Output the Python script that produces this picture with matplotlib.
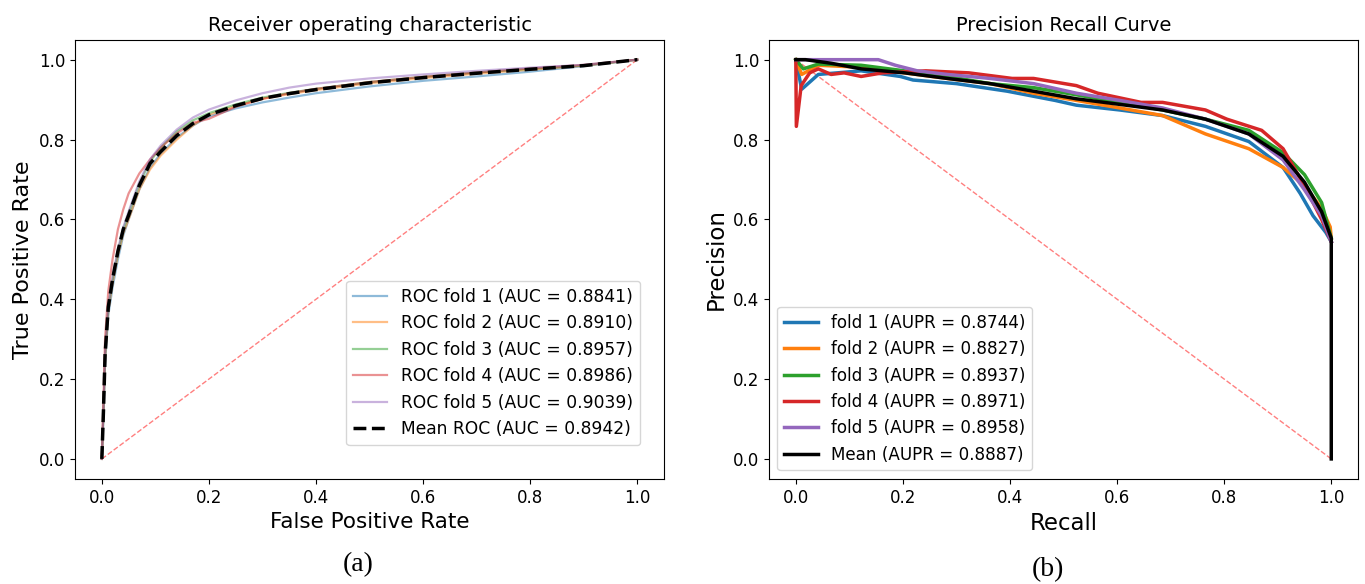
import matplotlib
matplotlib.use("Agg")
import matplotlib.pyplot as plt

# ---------------- ROC data ----------------
roc_fpr = [0, 0.003, 0.006, 0.012, 0.02, 0.03, 0.04, 0.05, 0.07, 0.09, 0.11, 0.14,
           0.17, 0.2, 0.25, 0.3, 0.35, 0.4, 0.5, 0.6, 0.7, 0.8, 0.9, 1.0]
roc_tpr_fold1 = [0, 0.11, 0.24, 0.36, 0.43, 0.50, 0.56, 0.60, 0.675, 0.73, 0.765, 0.805,
                 0.835, 0.858, 0.878, 0.893, 0.905, 0.916, 0.933, 0.947, 0.958, 0.970, 0.984, 1.0]
roc_tpr_fold2 = [0, 0.12, 0.25, 0.37, 0.44, 0.51, 0.565, 0.60, 0.675, 0.725, 0.76, 0.80,
                 0.835, 0.862, 0.884, 0.902, 0.914, 0.924, 0.941, 0.954, 0.965, 0.975, 0.985, 1.0]
roc_tpr_fold3 = [0, 0.12, 0.26, 0.38, 0.45, 0.52, 0.575, 0.615, 0.69, 0.745, 0.78, 0.82,
                 0.848, 0.866, 0.888, 0.905, 0.917, 0.927, 0.944, 0.957, 0.968, 0.977, 0.986, 1.0]
roc_tpr_fold4 = [0, 0.15, 0.30, 0.42, 0.50, 0.575, 0.625, 0.665, 0.715, 0.75, 0.78, 0.815,
                 0.842, 0.852, 0.882, 0.902, 0.916, 0.927, 0.944, 0.957, 0.968, 0.978, 0.987, 1.0]
roc_tpr_fold5 = [0, 0.12, 0.26, 0.38, 0.455, 0.525, 0.58, 0.62, 0.695, 0.75, 0.785, 0.825,
                 0.855, 0.875, 0.898, 0.916, 0.930, 0.940, 0.953, 0.963, 0.972, 0.980, 0.987, 1.0]
roc_tpr_mean = [0, 0.12, 0.26, 0.38, 0.45, 0.52, 0.575, 0.61, 0.685, 0.74, 0.77, 0.81,
                0.84, 0.862, 0.885, 0.903, 0.915, 0.925, 0.942, 0.955, 0.966, 0.976, 0.985, 1.0]
roc_auc = [0.8841, 0.8910, 0.8957, 0.8986, 0.9039]
roc_auc_mean = 0.8942

# ---------------- PR data ----------------
pr_rec_fold1 = [0, 0.011, 0.042, 0.122, 0.195, 0.219, 0.30, 0.395, 0.484, 0.524, 0.605,
                0.685, 0.765, 0.846, 0.91, 0.942, 0.966, 0.99, 1.0]
pr_prec_fold1 = [1.0, 0.926, 0.963, 0.972, 0.958, 0.949, 0.94, 0.921, 0.898, 0.886, 0.874,
                 0.860, 0.833, 0.795, 0.73, 0.665, 0.609, 0.567, 0.544]
pr_rec_fold2 = [0, 0.011, 0.042, 0.122, 0.203, 0.283, 0.363, 0.444, 0.524, 0.605, 0.685,
                0.765, 0.846, 0.91, 0.95, 0.982, 0.998, 1.0]
pr_prec_fold2 = [1.0, 0.963, 0.986, 0.981, 0.967, 0.953, 0.94, 0.916, 0.898, 0.879, 0.860,
                 0.814, 0.777, 0.73, 0.684, 0.628, 0.581, 0.553]
pr_rec_fold3 = [0, 0.014, 0.042, 0.122, 0.203, 0.283, 0.363, 0.444, 0.524, 0.605, 0.685,
                0.765, 0.846, 0.91, 0.95, 0.982, 1.0]
pr_prec_fold3 = [1.0, 0.977, 0.989, 0.986, 0.972, 0.958, 0.94, 0.93, 0.912, 0.893, 0.874,
                 0.851, 0.823, 0.767, 0.712, 0.642, 0.553]
pr_rec_fold4 = [0, 0.001, 0.01, 0.026, 0.042, 0.066, 0.09, 0.122, 0.162, 0.243, 0.323,
                0.404, 0.444, 0.524, 0.564, 0.645, 0.685, 0.765, 0.805, 0.87, 0.91, 0.95,
                0.982, 1.0]
pr_prec_fold4 = [1.0, 0.833, 0.935, 0.967, 0.977, 0.963, 0.967, 0.958, 0.967, 0.972, 0.967,
                 0.953, 0.953, 0.935, 0.916, 0.893, 0.893, 0.874, 0.851, 0.823, 0.777, 0.684,
                 0.60, 0.544]
pr_rec_fold5 = [0, 0.07, 0.154, 0.186, 0.227, 0.283, 0.363, 0.444, 0.524, 0.605, 0.685,
                0.765, 0.846, 0.91, 0.95, 0.982, 1.0]
pr_prec_fold5 = [1.0, 1.0, 1.0, 0.986, 0.972, 0.963, 0.953, 0.94, 0.916, 0.898, 0.879,
                 0.851, 0.814, 0.749, 0.674, 0.609, 0.544]
pr_rec_mean = [0, 0.018, 0.066, 0.122, 0.203, 0.283, 0.363, 0.444, 0.524, 0.605, 0.685,
               0.765, 0.846, 0.91, 0.95, 0.982, 1.0, 1.0]
pr_prec_mean = [1.0, 1.0, 0.991, 0.977, 0.967, 0.953, 0.94, 0.921, 0.902, 0.888, 0.874,
                0.851, 0.814, 0.758, 0.693, 0.619, 0.553, 0.0]
aupr = [0.8744, 0.8827, 0.8937, 0.8971, 0.8958]
aupr_mean = 0.8887

colors = ["#1f77b4", "#ff7f0e", "#2ca02c", "#d62728", "#9467bd"]

fig = plt.figure(figsize=(13.65, 5.84), dpi=100)
ax1 = fig.add_axes([0.055, 0.18, 0.4315, 0.752])
ax2 = fig.add_axes([0.5634, 0.18, 0.4315, 0.752])

# ROC
ax1.plot([0, 1], [0, 1], linestyle="--", color="red", alpha=0.5, lw=1)
roc_folds = [roc_tpr_fold1, roc_tpr_fold2, roc_tpr_fold3, roc_tpr_fold4, roc_tpr_fold5]
for i, tpr in enumerate(roc_folds):
    ax1.plot(roc_fpr, tpr, color=colors[i], lw=1.6, alpha=0.5,
             label=f"ROC fold {i+1} (AUC = {roc_auc[i]:.4f})")
ax1.plot(roc_fpr, roc_tpr_mean, color="black", lw=2.5, linestyle="--",
         label=f"Mean ROC (AUC = {roc_auc_mean:.4f})")
ax1.set_xlim(-0.05, 1.05)
ax1.set_ylim(-0.05, 1.05)
ax1.set_title("Receiver operating characteristic", fontsize=14)
ax1.set_xlabel("False Positive Rate", fontsize=15.5)
ax1.set_ylabel("True Positive Rate", fontsize=16)
ax1.tick_params(labelsize=12)
ax1.legend(loc="lower right", fontsize=12.3, bbox_to_anchor=(0.959, 0.077),
           borderaxespad=0.0)

# PR
ax2.plot([0, 1], [1, 0], linestyle="--", color="red", alpha=0.5, lw=1)
pr_folds = [(pr_rec_fold1, pr_prec_fold1), (pr_rec_fold2, pr_prec_fold2),
            (pr_rec_fold3, pr_prec_fold3), (pr_rec_fold4, pr_prec_fold4),
            (pr_rec_fold5, pr_prec_fold5)]
for i, (r, p) in enumerate(pr_folds):
    ax2.plot(r, p, color=colors[i], lw=2.5,
             label=f"fold {i+1} (AUPR = {aupr[i]:.4f})")
ax2.plot(pr_rec_mean, pr_prec_mean, color="black", lw=2.5,
         label=f"Mean (AUPR = {aupr_mean:.4f})")
ax2.set_xlim(-0.05, 1.05)
ax2.set_ylim(-0.05, 1.05)
ax2.set_title("Precision Recall Curve", fontsize=14)
ax2.set_xlabel("Recall", fontsize=16.5)
ax2.set_ylabel("Precision", fontsize=16.5)
ax2.tick_params(labelsize=12)
ax2.legend(loc="lower left", fontsize=12.1, labelspacing=0.5)

fig.text(358 / 1365, 1 - 565 / 584, "(a)", ha="center", va="center",
         fontsize=20, family="Liberation Serif")
fig.text(1048 / 1365, 1 - 570 / 584, "(b)", ha="center", va="center",
         fontsize=20, family="Liberation Serif")

fig.savefig("out.png", dpi=100)
